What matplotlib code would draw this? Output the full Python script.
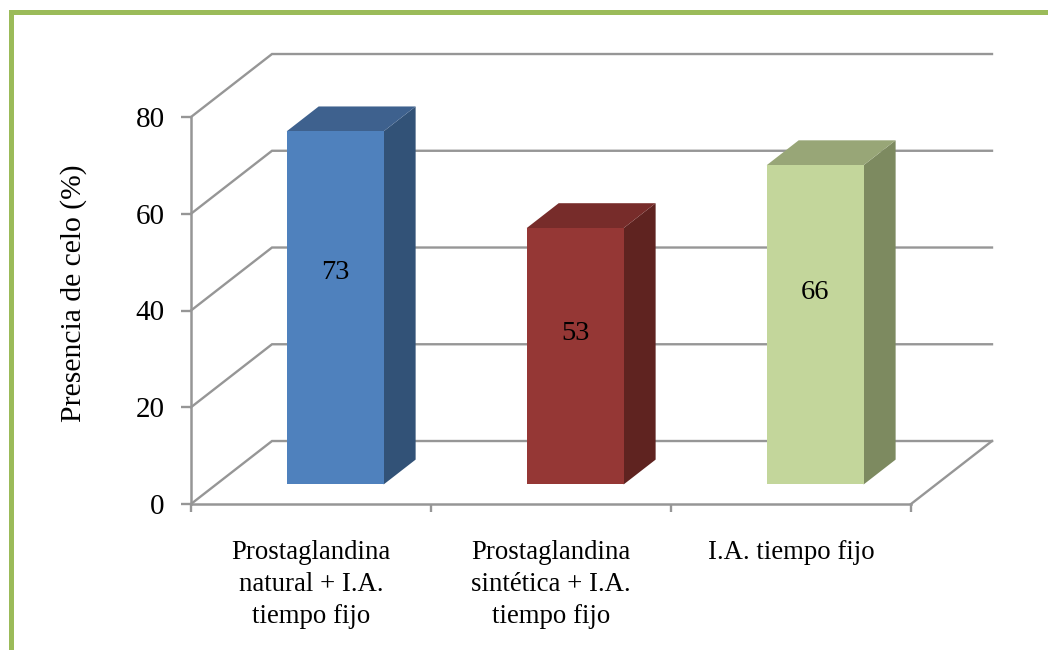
"""Presencia de celo por tratamiento, columnas con perspectiva oblicua."""
import matplotlib

matplotlib.use("Agg")

import matplotlib.pyplot as plt
from matplotlib.patches import Rectangle

WIDTH = 1048
HEIGHT = 650

categories = [
    "Prostaglandina\nnatural + I.A.\ntiempo fijo",
    "Prostaglandina\nsintética + I.A.\ntiempo fijo",
    "I.A. tiempo fijo",
]
values = [73, 53, 66]
y_ticks = [0, 20, 40, 60, 80]
front_colors = ["#4F81BD", "#953735", "#C3D69B"]
top_colors = ["#3E618E", "#772C2A", "#98A677"]
side_colors = ["#325277", "#5F2320", "#7D8A60"]

GRID = "#969696"
BORDER = "#9BBB59"
BAR_WIDTH = 0.404
# profundidad total del suelo, en unidades de los ejes
DEPTH_X = 0.3375
DEPTH_Y = 13.02
BAR_START = 0.31
BAR_END = 0.705
BAR_SHIFT = -0.004
# altura de cada etiqueta como fraccion de su columna
LABEL_HEIGHT = (0.6, 0.59, 0.6)

plt.rcParams["font.family"] = ["Liberation Serif", "DejaVu Serif"]


def oblique(x, y, depth):
    return x + depth * DEPTH_X, y + depth * DEPTH_Y


def draw_walls(ax):
    x_end = len(categories)
    for tick in y_ticks:
        back_x, back_y = oblique(0, tick, 1)
        end_x, _ = oblique(x_end, tick, 1)
        ax.plot([0, back_x, end_x], [tick, back_y, back_y], color=GRID, lw=1.7,
                solid_joinstyle="miter", clip_on=False, zorder=1)
    back_x, back_y = oblique(x_end, 0, 1)
    ax.plot([x_end, back_x], [0, back_y], color=GRID, lw=1.7, clip_on=False, zorder=1)


def draw_bar(ax, position, value, front, top, side):
    left = position + 0.5 - BAR_WIDTH / 2 + BAR_SHIFT
    right = left + BAR_WIDTH
    x0, y0 = oblique(left, 0, BAR_START)
    x1, _ = oblique(right, 0, BAR_START)
    y1 = y0 + value
    x2, y2 = oblique(x1, y0, BAR_END - BAR_START)
    shift = x2 - x1
    rise = y2 - y0
    ax.fill([x1, x2, x2, x1], [y0, y2, y2 + value, y1], color=side, lw=0, clip_on=False, zorder=3)
    ax.fill([x0, x1, x2, x0 + shift], [y1, y1, y1 + rise, y1 + rise], color=top, lw=0,
            clip_on=False, zorder=3)
    ax.fill([x0, x1, x1, x0], [y0, y0, y1, y1], color=front, lw=0, clip_on=False, zorder=4)
    ax.text((x0 + x1) / 2, y0 + value * LABEL_HEIGHT[position], str(value), ha="center", va="center",
            fontsize=20.5, color="black", zorder=5)


def main():
    fig = plt.figure(figsize=(WIDTH / 100, HEIGHT / 100), dpi=100, facecolor="white")
    ax = fig.add_axes([191 / WIDTH, 1 - 504 / HEIGHT, 720 / WIDTH, 387 / HEIGHT])
    ax.set_xlim(0, len(categories))
    ax.set_ylim(y_ticks[0], y_ticks[-1])
    ax.patch.set_alpha(0)

    draw_walls(ax)
    for position, value in enumerate(values):
        draw_bar(ax, position, value, front_colors[position], top_colors[position], side_colors[position])

    for name in ("top", "right"):
        ax.spines[name].set_visible(False)
    for name in ("left", "bottom"):
        ax.spines[name].set_color(GRID)
        ax.spines[name].set_linewidth(1.8)
        ax.spines[name].set_zorder(2)

    ax.set_yticks(y_ticks)
    ax.tick_params(axis="y", length=7, width=1.7, color=GRID, labelsize=21, pad=12)
    ax.set_xticks(range(len(categories) + 1))
    ax.tick_params(axis="x", which="major", length=6, width=1.7, color=GRID, labelbottom=False)
    ax.set_xticks([i + 0.5 for i in range(len(categories))], minor=True)
    ax.set_xticklabels(categories, minor=True, fontsize=19.3, linespacing=1.36, va="top")
    ax.tick_params(axis="x", which="minor", length=0, pad=26)

    ax.set_ylabel("Presencia de celo (%)", fontsize=21.3, va="center")
    ax.yaxis.set_label_coords(-117 / 720, 211 / 387)

    # marco verde abierto por la derecha y por abajo
    fig.add_artist(Rectangle((9 / WIDTH, 1 - 15 / HEIGHT), 1 - 9 / WIDTH, 5 / HEIGHT,
                             transform=fig.transFigure, color=BORDER, lw=0))
    fig.add_artist(Rectangle((9 / WIDTH, 0), 5 / WIDTH, 1 - 10 / HEIGHT,
                             transform=fig.transFigure, color=BORDER, lw=0))

    fig.savefig("out.png", dpi=100)
    plt.close(fig)


if __name__ == "__main__":
    main()
